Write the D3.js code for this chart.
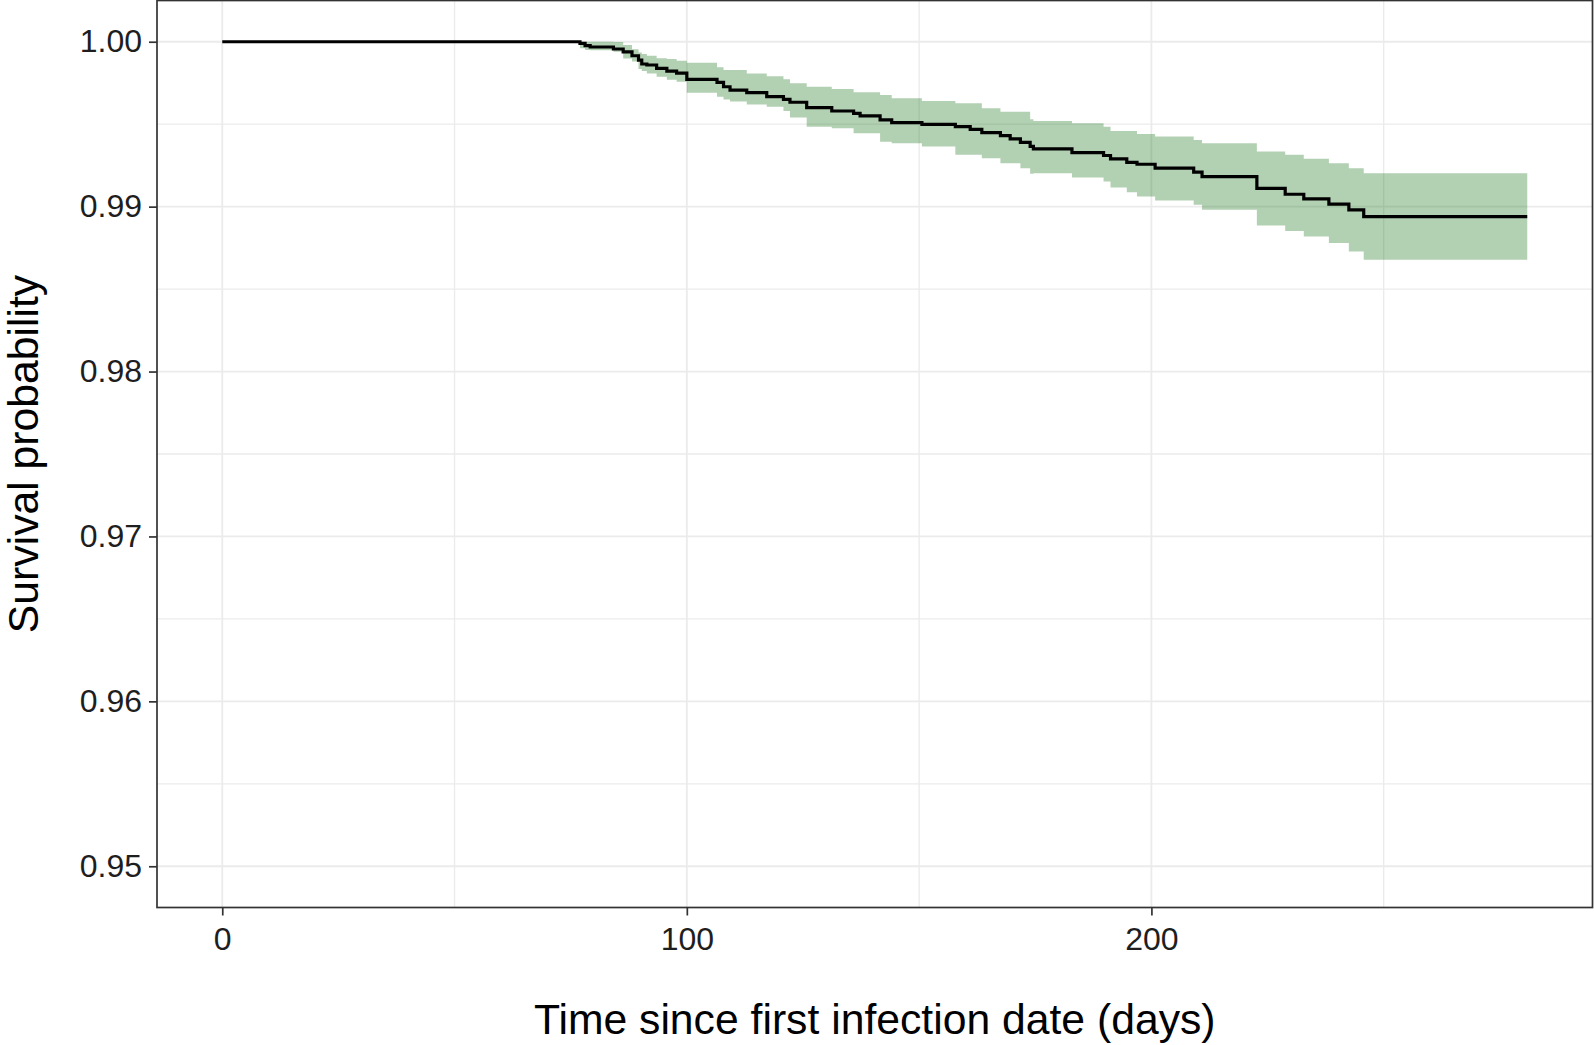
<!DOCTYPE html>
<html><head><meta charset="utf-8">
<script src="https://cdn.jsdelivr.net/npm/d3@7"></script>
<style>body{margin:0;background:#fff}svg{display:block}</style>
</head><body><svg id="c" width="1594" height="1045"></svg>
<script>
// ---- data ----
const times    = [0, 77.0, 78.1, 79.2, 84.2, 86.3, 88.2, 89.6, 90.3, 91.4, 93.5, 95.7, 97.8, 100.0, 106.5, 107.9, 109.3, 112.9, 117.2, 120.8, 122.2, 125.8, 131.2, 135.9, 137.3, 141.6, 144.1, 150.6, 157.8, 161.0, 163.5, 167.5, 169.6, 171.8, 173.9, 174.6, 182.9, 189.7, 191.2, 194.7, 196.9, 200.8, 209.1, 210.9, 222.7, 228.8, 232.8, 238.2, 242.5, 245.7];
const survival = [1, .99990, .99976, .99968, .99956, .99939, .99915, .99889, .99865, .99859, .99838, .99822, .99810, .99772, .99754, .99727, .99707, .99691, .99667, .99651, .99633, .99600, .99580, .99566, .99550, .99526, .99509, .99499, .99485, .99469, .99449, .99431, .99411, .99390, .99365, .99350, .99328, .99310, .99290, .99269, .99257, .99233, .99209, .99182, .99111, .99075, .99047, .99015, .98980, .98940];
const upper    = [1, 1.0000, 1.0000, 1.0000, .99999, .99980, .99955, .99935, .99925, .99915, .99900, .99895, .99885, .99873, .99845, .99828, .99828, .99808, .99790, .99772, .99748, .99727, .99713, .99693, .99693, .99677, .99657, .99641, .99627, .99627, .99596, .99576, .99576, .99576, .99530, .99520, .99505, .99485, .99459, .99459, .99441, .99425, .99404, .99384, .99334, .99314, .99290, .99263, .99233, .99202];
const lower    = [1, .99960, .99950, .99948, .99939, .99899, .99880, .99835, .99822, .99808, .99788, .99770, .99758, .99691, .99667, .99650, .99637, .99620, .99606, .99580, .99540, .99485, .99475, .99445, .99445, .99394, .99384, .99364, .99314, .99314, .99294, .99263, .99263, .99233, .99200, .99202, .99176, .99152, .99116, .99087, .99061, .99037, .99011, .98981, .98885, .98853, .98819, .98779, .98728, .98678];
const endTime  = 280.9;
const xTicks   = [0, 100, 200];
const xMinor   = [50, 150, 250];
const yTicks   = [0.95, 0.96, 0.97, 0.98, 0.99, 1.00];
const yMinor   = [0.955, 0.965, 0.975, 0.985, 0.995];
const xLabel   = "Time since first infection date (days)";
const yLabel   = "Survival probability";

// ---- layout ----
const P = {left: 157, right: 1592.5, top: 0.5, bottom: 907.5};
const xLim = [0, endTime], yLim = [0.95, 1.0];
const ex = (xLim[1]-xLim[0])*0.05, ey = (yLim[1]-yLim[0])*0.05;
const x = d3.scaleLinear().domain([xLim[0]-ex, xLim[1]+ex]).range([P.left, P.right]);
const y = d3.scaleLinear().domain([yLim[0]-ey, yLim[1]+ey]).range([P.bottom, P.top]);

const svg = d3.select("#c");
const font = "'Liberation Sans', Arial, sans-serif";

const data = times.map((t,i)=>({t, s: survival[i], u: upper[i], l: lower[i]}));
data.push({t: endTime, s: survival[survival.length-1], u: upper[upper.length-1], l: lower[lower.length-1]});

// grid
const g = svg.append("g");
g.selectAll(".ym").data(yMinor).enter().append("line")
  .attr("x1", P.left).attr("x2", P.right).attr("y1", d=>y(d)).attr("y2", d=>y(d))
  .attr("stroke", "#ebebeb").attr("stroke-width", 1.3);
g.selectAll(".xm").data(xMinor).enter().append("line")
  .attr("y1", P.top).attr("y2", P.bottom).attr("x1", d=>x(d)).attr("x2", d=>x(d))
  .attr("stroke", "#ebebeb").attr("stroke-width", 1.3);
g.selectAll(".yM").data(yTicks).enter().append("line")
  .attr("x1", P.left).attr("x2", P.right).attr("y1", d=>y(d)).attr("y2", d=>y(d))
  .attr("stroke", "#ebebeb").attr("stroke-width", 1.8);
g.selectAll(".xM").data(xTicks).enter().append("line")
  .attr("y1", P.top).attr("y2", P.bottom).attr("x1", d=>x(d)).attr("x2", d=>x(d))
  .attr("stroke", "#ebebeb").attr("stroke-width", 1.8);

// ribbon
const area = d3.area().curve(d3.curveStepAfter)
  .x(d=>x(d.t)).y0(d=>y(d.l)).y1(d=>y(d.u));
svg.append("path").datum(data).attr("d", area)
  .attr("fill", "rgb(0,100,0)").attr("fill-opacity", 0.3);

// survival line
const line = d3.line().curve(d3.curveStepAfter).x(d=>x(d.t)).y(d=>y(d.s));
svg.append("path").datum(data).attr("d", line)
  .attr("fill", "none").attr("stroke", "#000").attr("stroke-width", 3.2);

// panel border
svg.append("rect").attr("x", P.left).attr("y", P.top)
  .attr("width", P.right-P.left).attr("height", P.bottom-P.top)
  .attr("fill", "none").attr("stroke", "#333").attr("stroke-width", 1.7);

// axes
const xAxis = d3.axisBottom(x).tickValues(xTicks).tickFormat(d3.format("d")).tickSize(8).tickPadding(6);
const yAxis = d3.axisLeft(y).tickValues(yTicks).tickFormat(d3.format(".2f")).tickSize(8).tickPadding(7);
const xa = svg.append("g").attr("transform", `translate(0,${P.bottom})`).call(xAxis);
const ya = svg.append("g").attr("transform", `translate(${P.left},0)`).call(yAxis);
[xa, ya].forEach(a=>{
  a.select(".domain").remove();
  a.selectAll(".tick line").attr("stroke", "#333").attr("stroke-width", 1.7);
  a.selectAll(".tick text").attr("fill", "#1e1e1e").style("font-family", font).style("font-size", "32px");
});
xa.selectAll(".tick text").attr("dy", "0.9em");

// titles
svg.append("text").attr("x", (P.left+P.right)/2).attr("y", 1034)
  .attr("text-anchor", "middle").style("font-family", font).style("font-size", "42.7px")
  .attr("fill", "#000").text(xLabel);
svg.append("text").attr("transform", `translate(38,${(P.top+P.bottom)/2}) rotate(-90)`)
  .attr("text-anchor", "middle").style("font-family", font).style("font-size", "42.7px")
  .attr("fill", "#000").text(yLabel);
</script></body></html>
